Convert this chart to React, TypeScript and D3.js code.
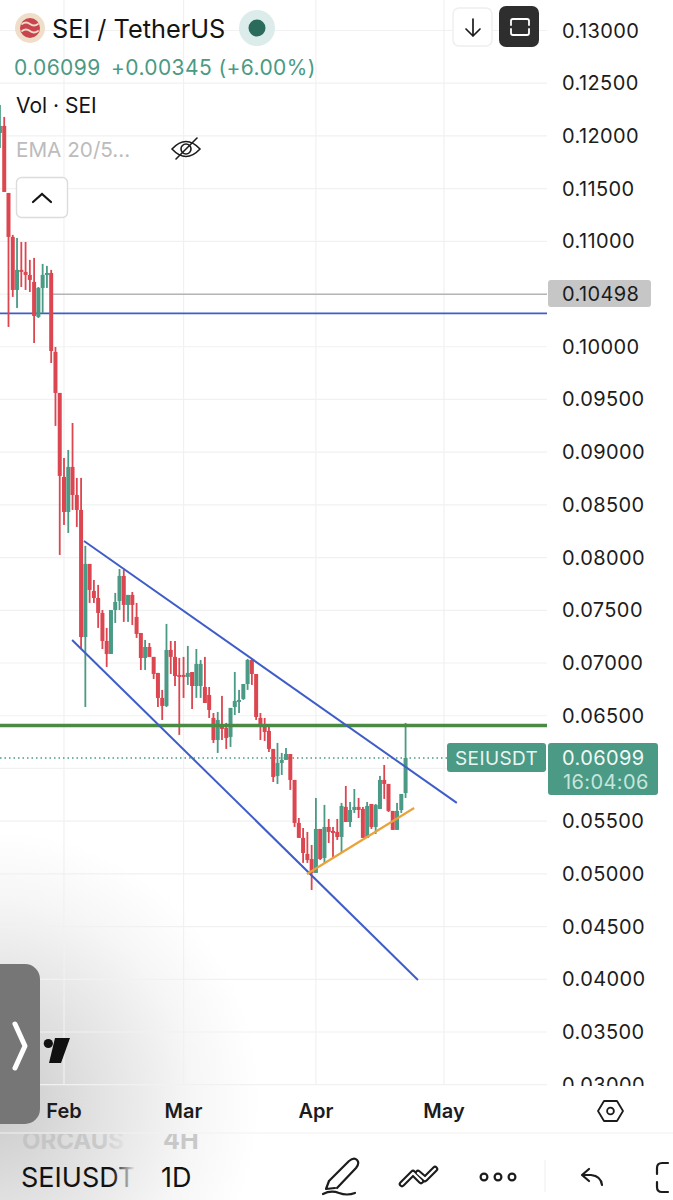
import React from "react";
import * as d3 from "d3";

const firstDay = -15;
const highs = [.12294,.12180,.11459,.11061,.11032,.10994,.10994,.10824,.10843,.10567,.10786,.10767,.10729,.09998,.09562,.08945,.09021,.09277,.08756,.08756,.08111,.07940,.07788,.07741,.07503,.07333,.07503,.07665,.07892,.07883,.07646,.07674,.07570,.07285,.07219,.07190,.07058,.06906,.06745,.07371,.07209,.07209,.07048,.07058,.07162,.06915,.07133,.07029,.07058,.06773,.06526,.06536,.06688,.06432,.06574,.06915,.06745,.06801,.07039,.07039,.06896,.06526,.06479,.06413,.06185,.06242,.06147,.06194,.06137,.05891,.05530,.05435,.05398,.05274,.05720,.05426,.05654,.05521,.05445,.05521,.05673,.05834,.05682,.05805,.05720,.05635,.05682,.05663,.05663,.05929,.06033,.05853,.05597,.05673,.05758,.06432];
const lows = [.11886,.11469,.10188,.10473,.10368,.10567,.10539,.10520,.10036,.10273,.10321,.10558,.09846,.09249,.08025,.08310,.08234,.08452,.08291,.07143,.06583,.07570,.07570,.07333,.07133,.06963,.07086,.07380,.07503,.07390,.07390,.07361,.07238,.06934,.06934,.07058,.06849,.06583,.06460,.06583,.06896,.06782,.06318,.06669,.06792,.06564,.06669,.06669,.06621,.06479,.06242,.06147,.06270,.06185,.06204,.06507,.06526,.06650,.06745,.06792,.06460,.06270,.06261,.06156,.05872,.05853,.05938,.06081,.05796,.05445,.05341,.05104,.05104,.04847,.05009,.05132,.05104,.05293,.05160,.05322,.05208,.05492,.05445,.05578,.05530,.05341,.05341,.05426,.05379,.05616,.05711,.05587,.05417,.05417,.05578,.05720];
const opens = [.12028,.12095,.11459,.11042,.10539,.10729,.10710,.10681,.10615,.10283,.10558,.10681,.10700,.09951,.09562,.08765,.08433,.08860,.08594,.08452,.07247,.07940,.07684,.07617,.07475,.07209,.07086,.07503,.07589,.07826,.07551,.07646,.07437,.07285,.07048,.07152,.07058,.06906,.06669,.06593,.07124,.07058,.06887,.06887,.06868,.06915,.06782,.06782,.06773,.06697,.06479,.06270,.06394,.06384,.06299,.06583,.06631,.06659,.06801,.07029,.06896,.06479,.06394,.06356,.06185,.05929,.06052,.06081,.06137,.05891,.05483,.05341,.05189,.05141,.05009,.05426,.05151,.05445,.05407,.05398,.05350,.05635,.05492,.05606,.05635,.05616,.05341,.05663,.05445,.05616,.05891,.05853,.05597,.05417,.05606,.05767];
const closes = [.12095,.11469,.11042,.10539,.10729,.10710,.10681,.10634,.10292,.10558,.10681,.10700,.09960,.09562,.08775,.08433,.08860,.08594,.08452,.07247,.07940,.07693,.07617,.07475,.07209,.07086,.07503,.07579,.07826,.07551,.07646,.07551,.07276,.07048,.07152,.07058,.06896,.06669,.06593,.07124,.07058,.06877,.06868,.06868,.06906,.06782,.06991,.06991,.06621,.06555,.06270,.06460,.06375,.06289,.06574,.06640,.06650,.06801,.07029,.06896,.06488,.06394,.06346,.06185,.05919,.06052,.06081,.06137,.05891,.05483,.05341,.05198,.05132,.05009,.05426,.05141,.05445,.05398,.05388,.05350,.05644,.05492,.05606,.05635,.05606,.05341,.05644,.05445,.05654,.05891,.05853,.05597,.05417,.05597,.05758,.06099];

const priceTicks = d3.range(3, 13.5, 0.5).map((v) => v / 100);
const hiddenTicks = [0.105, 0.06];
const monthDays = [0, 28, 59, 89];
const monthLabels = ["Feb", "Mar", "Apr", "May"];
const upperChannel: [number, number][] = [[4.68, 0.08158], [92, 0.05673]];
const lowerChannel: [number, number][] = [[1.9, 0.07219], [82.9, 0.03994]];
const supportLine: [number, number][] = [[56.9, 0.04999], [82, 0.05625]];
const greyLevel = 0.10498;
const blueLevel = 0.10316;
const greenLevel = 0.06408;
const lastPrice = 0.06099;

const FONT = "Inter, 'Noto Sans', sans-serif";
const UP = "#4a9a85";
const DOWN = "#dc4650";
const BLUE = "#3f5dc9";
const GRID = "#f1f1f1";

const x = d3.scaleLinear().domain([0, 89]).range([64, 444]);
const y = d3.scaleLinear().domain([0.03, 0.13]).range([1084.7, 30.5]);
const trend = d3.line<[number, number]>().x((d) => x(d[0])).y((d) => y(d[1]));

export default function App() {
  const fmt = d3.format(".5f");
  const axisFont = { fontSize: 20, letterSpacing: 0.4 };
  return (
    <svg width={673} height={1200} viewBox="0 0 673 1200" style={{ position: "absolute", left: 0, top: 0, background: "#fff" }} fontFamily={FONT}>
      <defs>
        <radialGradient id="fog" gradientUnits="userSpaceOnUse" cx={-10} cy={1100} r={270}>
          <stop offset="0" stopColor="#c9c9c9" />
          <stop offset="0.4" stopColor="#e2e2e2" />
          <stop offset="0.75" stopColor="#f6f6f6" />
          <stop offset="1" stopColor="#ffffff" />
        </radialGradient>
        <linearGradient id="fadeA" gradientUnits="userSpaceOnUse" x1={112} x2={134} y1={0} y2={0}>
          <stop offset="0" stopColor="#111" />
          <stop offset="1" stopColor="#111" stopOpacity="0.05" />
        </linearGradient>
        <linearGradient id="fadeB" gradientUnits="userSpaceOnUse" x1={22} x2={134} y1={0} y2={0}>
          <stop offset="0" stopColor="#c4c4c4" />
          <stop offset="0.7" stopColor="#c9c9c9" />
          <stop offset="1" stopColor="#dddddd" stopOpacity="0.2" />
        </linearGradient>
        <clipPath id="axisClip"><rect x={548} y={0} width={125} height={1086} /></clipPath>
        <clipPath id="paneClip"><rect x={0} y={0} width={547} height={1086} /></clipPath>
        <clipPath id="ghost"><rect x={0} y={1134} width={300} height={18} /></clipPath>
        <clipPath id="nameClip"><rect x={0} y={1160} width={134} height={40} /></clipPath>
      </defs>
      <rect width={673} height={1200} fill="#fff" />
      <rect x={0} y={820} width={280} height={380} fill="url(#fog)" />

      {/* grid */}
      <g stroke={GRID} strokeWidth={1.2}>
        {priceTicks.map((t) => <line key={t} x1={0} x2={547} y1={y(t)} y2={y(t)} />)}
        {monthDays.map((d) => <line key={d} x1={x(d)} x2={x(d)} y1={0} y2={1084} />)}
        <line x1={0} x2={673} y1={1133} y2={1133} />
      </g>

      <g clipPath="url(#paneClip)">
        <line x1={x(-2.8)} x2={547} y1={y(greyLevel)} y2={y(greyLevel)} stroke="#b5b5b5" strokeWidth={1.6} />
        <line x1={0} x2={547} y1={y(blueLevel)} y2={y(blueLevel)} stroke={BLUE} strokeWidth={1.8} />
        <line x1={0} x2={447} y1={y(lastPrice)} y2={y(lastPrice)} stroke={UP} strokeWidth={1.4} strokeDasharray="1.5 3" />
        {/* candles */}
        {closes.map((c, i) => {
          const cx = x(firstDay + i);
          const o = opens[i];
          const col = c >= o ? UP : DOWN;
          const top = y(Math.max(o, c));
          const h = Math.max(1.6, y(Math.min(o, c)) - top);
          return (
            <g key={i} fill={col}>
              <rect x={cx - 0.9} width={1.8} y={y(highs[i])} height={y(lows[i]) - y(highs[i])} />
              <rect x={cx - 2} width={4} y={top} height={h} />
            </g>
          );
        })}
        <line x1={0} x2={547} y1={y(greenLevel)} y2={y(greenLevel)} stroke="#4a8a44" strokeWidth={3.4} />
        <path d={trend(upperChannel) || ""} fill="none" stroke={BLUE} strokeWidth={2} />
        <path d={trend(lowerChannel) || ""} fill="none" stroke={BLUE} strokeWidth={2} />
        <path d={trend(supportLine) || ""} fill="none" stroke="#e8a33d" strokeWidth={2.2} />
      </g>

      {/* price axis */}
      <g clipPath="url(#axisClip)" fill="#1c1c1c" {...axisFont}>
        {priceTicks.filter((t) => !hiddenTicks.includes(t)).map((t) => (
          <text key={t} x={562} y={y(t) + 7}>{fmt(t)}</text>
        ))}
      </g>
      <rect x={548} y={280} width={103} height={27} rx={3} fill="#c6c6c6" />
      <text x={562} y={y(greyLevel) + 7} fill="#1c1c1c" {...axisFont}>{fmt(greyLevel)}</text>
      <rect x={447} y={743} width={99} height={29} rx={3} fill={UP} />
      <text x={455} y={765} fontSize={19} letterSpacing={0.4} fill="#eaf5f2">SEIUSDT</text>
      <rect x={548} y={743} width={110} height={52} rx={3} fill={UP} />
      <text x={562} y={765} fill="#f1f8f6" {...axisFont}>{fmt(lastPrice)}</text>
      <text x={563} y={789} fill="#c6e6dd" {...axisFont}>16:04:06</text>

      {/* time axis */}
      <g fontSize={20} fontWeight={600} fill="#1c1c1c" textAnchor="middle">
        {monthDays.map((d, i) => <text key={d} x={x(d)} y={1118}>{monthLabels[i]}</text>)}
      </g>

      {/* header */}
      <circle cx={30} cy={28} r={15} fill="#efdfc9" />
      <circle cx={30} cy={28} r={10} fill="#c8444f" />
      <path d="M22 24q4 -3 8 0t8 0M22 31q4 -3 8 0t8 0" fill="none" stroke="#efdfc9" strokeWidth={1.8} strokeLinecap="round" />
      <text x={52} y={38} fontSize={25.3} fill="#141414">SEI / TetherUS</text>
      <circle cx={257} cy={28} r={18} fill="#dcecea" />
      <circle cx={257} cy={28} r={8.5} fill="#2a6b5c" />
      <text x={14} y={75} fontSize={21} fill={UP} letterSpacing={0.4}>0.06099</text>
      <text x={111} y={75} fontSize={21} fill={UP} letterSpacing={0.4}>+0.00345 (+6.00%)</text>
      <text x={16} y={113} fontSize={21} fill="#141414">Vol · SEI</text>
      <text x={16} y={157} fontSize={20.7} fill="#bcbcbc">EMA 20/5...</text>
      <g fill="none" stroke="#1c1c1c" strokeWidth={1.6} strokeLinecap="round">
        <path d="M172 149q14 -15 28 0q-14 15 -28 0z" />
        <circle cx={186} cy={149} r={5} />
        <path d="M176 159L197 138" />
      </g>
      <rect x={16.5} y={177.5} width={51} height={40} rx={5} fill="#fff" stroke="#dcdcdc" strokeWidth={1.4} />
      <path d="M33 202l9 -8l9 8" fill="none" stroke="#141414" strokeWidth={2.2} strokeLinecap="round" />

      {/* top-right buttons */}
      <rect x={453} y={8} width={39} height={38} rx={6} fill="#fff" stroke="#eeeeee" strokeWidth={1.4} />
      <path d="M473 19v17M466 29l7 7l7 -7" fill="none" stroke="#1c1c1c" strokeWidth={1.7} strokeLinecap="round" strokeLinejoin="round" />
      <rect x={499} y={6} width={40} height={41} rx={7} fill="#2e2e2e" />
      <path d="M511 25v-4q0 -2 2 -2h14q2 0 2 2v4M511 29v4q0 2 2 2h14q2 0 2 -2v-4" fill="none" stroke="#fff" strokeWidth={1.8} strokeLinecap="round" />

      {/* side handle + logo */}
      <rect x={-16} y={964} width={56} height={160} rx={15} fill="#767676" />
      <path d="M15 1024l10 22l-10 22" fill="none" stroke="#fff" strokeWidth={5} strokeLinecap="round" strokeLinejoin="round" />
      <circle cx={48.3} cy={1043.5} r={4.6} fill="#111" />
      <path d="M55 1038H70L61 1063H49Z" fill="#111" />

      {/* bottom toolbar */}
      <g clipPath="url(#ghost)" fontSize={24} fontWeight={700}>
        <text x={22} y={1148.5} fill="url(#fadeB)">ORCAUS</text>
        <text x={163} y={1148.5} fontSize={25} fill="#c8c8c8">4H</text>
      </g>
      <g clipPath="url(#nameClip)">
        <text x={21} y={1187} fontSize={27} fill="url(#fadeA)">SEIUSDT</text>
      </g>
      <text x={161} y={1187} fontSize={27} fill="#111">1D</text>
      <g fill="none" stroke="#1c1c1c" strokeWidth={2.2} strokeLinecap="round" strokeLinejoin="round">
        <path d="M329 1181l20 -20q5 -4 8 -1t-1 8l-19 20M329 1181l-3 8l9 -1" />
        <path d="M323 1194q8 -4 16 -1t16 0" />
        <circle cx={484} cy={1177} r={3.4} />
        <circle cx={498} cy={1177} r={3.4} />
        <circle cx={512} cy={1177} r={3.4} />
        <path d="M602 1185q-1 -9 -11 -10h-8M589 1169l-7 6l7 6" />
        <path d="M668 1163h-6q-5 0 -5 5v6M657 1182v5q0 5 5 5h6" />
      </g>
      <path d="M402 1184L413 1173L421 1181M418 1173L425 1179L435 1169" fill="none" stroke="#1c1c1c" strokeWidth={6.5} strokeLinecap="round" strokeLinejoin="round" />
      <path d="M402 1184L413 1173L421 1181M418 1173L425 1179L435 1169" fill="none" stroke="#fff" strokeWidth={2.4} strokeLinecap="round" strokeLinejoin="round" />
      <line x1={545} x2={545} y1={1160} y2={1192} stroke="#eeeeee" />
      <g fill="none" stroke="#1c1c1c" strokeWidth={1.8} strokeLinejoin="round">
        <path d="M598 1111l6 -10h13l6 10l-6 10h-13z" />
        <circle cx={610.5} cy={1111} r={3.4} />
      </g>
    </svg>
  );
}
